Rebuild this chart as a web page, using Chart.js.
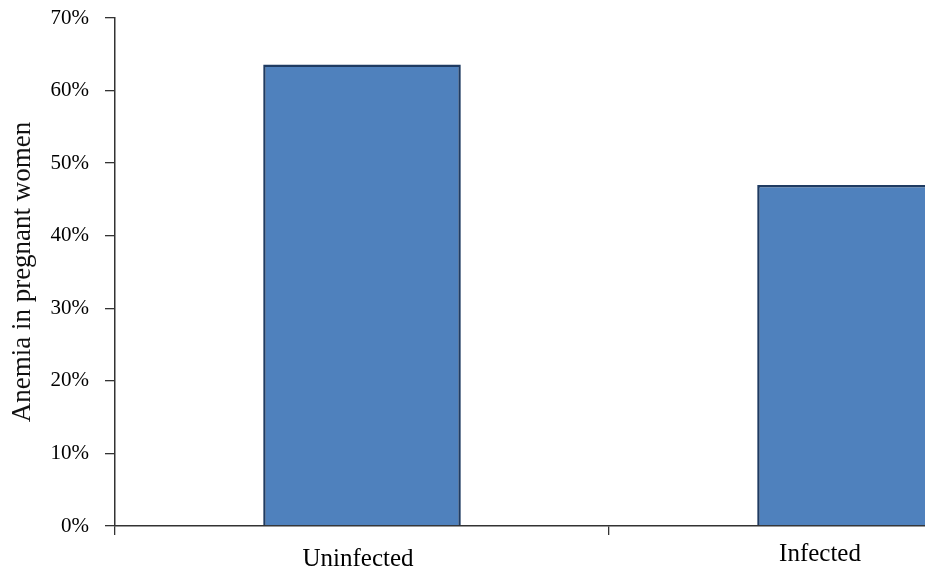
<!DOCTYPE html>
<html>
<head>
<meta charset="utf-8">
<script src="https://cdn.jsdelivr.net/npm/chart.js@4/dist/chart.umd.min.js"></script>
<style>
  html, body { margin: 0; padding: 0; background: #fff; overflow: hidden; }
  #wrap { width: 1103px; height: 569px; }
</style>
</head>
<body>
<div id="wrap"><canvas id="chart" width="1103" height="569"></canvas></div>
<script>
// --- Data ---
const categories = ["Uninfected", "Infected"];
const anemiaPct = [63.6, 47.0];
const yTicks = [0, 10, 20, 30, 40, 50, 60, 70];

const yTitle = "Anemia in pregnant women";
const serif = "'Liberation Serif', 'Times New Roman', serif";

// the category labels in the picture sit a little off the bar centres
const labelShift = [[-4, 2], [-36, -3]];

// draws the x labels ourselves so each can be nudged
const xLabels = {
  id: "xLabels",
  afterDraw(chart) {
    const { ctx, scales } = chart;
    const x = scales.x;
    ctx.save();
    ctx.font = "25px " + serif;
    ctx.fillStyle = "#000";
    ctx.textAlign = "center";
    ctx.textBaseline = "alphabetic";
    categories.forEach((c, i) => {
      const px = x.getPixelForValue(i) + labelShift[i][0];
      ctx.fillText(c, px, x.top + 38 + labelShift[i][1]);
    });
    ctx.restore();
  }
};

new Chart(document.getElementById("chart").getContext("2d"), {
  type: "bar",
  data: {
    labels: categories,
    datasets: [{
      data: anemiaPct,
      backgroundColor: "#4f81bd",
      borderColor: "#1f3b62",
      borderWidth: 2.5,
      categoryPercentage: 0.4,
      barPercentage: 1.0
    }]
  },
  options: {
    responsive: false,
    animation: false,
    layout: { padding: { top: 18, right: 0, bottom: 0, left: 0 } },
    plugins: {
      legend: { display: false },
      tooltip: { enabled: false }
    },
    scales: {
      x: {
        offset: true,
        afterFit: (s) => { s.height = 43; },
        grid: { offset: true, drawOnChartArea: false, tickLength: 9, color: "#333", lineWidth: 1.3 },
        border: { color: "#333", width: 1.5 },
        ticks: { color: "transparent", font: { family: serif, size: 25 }, padding: 4 }
      },
      y: {
        min: 0,
        max: 70,
        afterBuildTicks: (s) => { s.ticks = yTicks.map(v => ({ value: v })); },
        afterFit: (s) => { s.width = 115; s.paddingTop = 0; s.paddingBottom = 0; },
        grid: { drawOnChartArea: false, tickLength: 10, color: "#333", lineWidth: 1.3 },
        border: { color: "#333", width: 1.5 },
        ticks: {
          color: "#000",
          padding: 16,
          font: { family: serif, size: 21 },
          callback: (v) => v + "%"
        },
        title: {
          display: true,
          text: yTitle,
          color: "#111",
          font: { family: serif, size: 27 },
          padding: { top: 7, bottom: 0 }
        }
      }
    }
  },
  plugins: [xLabels]
});
</script>
</body>
</html>
